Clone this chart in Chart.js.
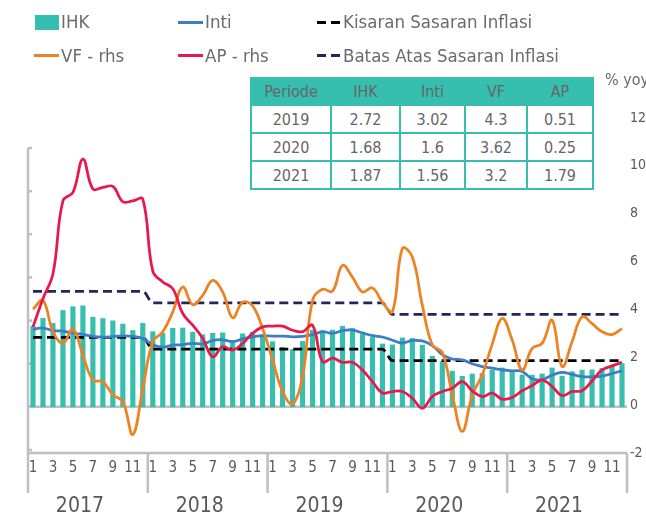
<!DOCTYPE html>
<html>
<head>
<meta charset="utf-8">
<script src="https://cdn.jsdelivr.net/npm/chart.js@4.4.1/dist/chart.umd.min.js"></script>
<style>
  body { margin: 0; background: #fff; }
  #wrap {
    position: relative; width: 646px; height: 515px;
    font-family: "Liberation Sans Narrow", "DejaVu Sans Condensed", sans-serif;
    color: #6b6b6b;
  }
  #grafik { position: absolute; left: 0; top: 0; }
  .teks { position: absolute; font-size: 18.5px; line-height: 20px; white-space: nowrap; }
  .tanda { position: absolute; }
  #tabel {
    position: absolute; left: 250px; top: 77px;
    border-collapse: collapse; font-size: 16px; background: #fff;
  }
  #tabel th, #tabel td {
    border: 2px solid #36BEAE; text-align: center; padding: 0;
    font-weight: normal; color: #666;
  }
  #tabel th { background: #36BEAE; height: 25px; }
  #tabel td { height: 26px; }
  #satuan { position: absolute; left: 605px; top: 70px; font-size: 16px; white-space: nowrap; }
</style>
</head>
<body>
<div id="wrap">
  <canvas id="grafik" width="646" height="515"></canvas>

  <!-- legenda -->
  <div class="tanda" style="left:35px;top:15px;width:24px;height:15px;background:#36BEAE"></div>
  <div class="teks" style="left:61px;top:12px">IHK</div>
  <div class="tanda" style="left:178px;top:21px;width:25px;height:3px;background:#3C7DC4"></div>
  <div class="teks" style="left:205px;top:12px">Inti</div>
  <div class="tanda" style="left:317px;top:21px;width:9px;height:3px;background:#000"></div>
  <div class="tanda" style="left:331px;top:21px;width:9px;height:3px;background:#000"></div>
  <div class="teks" style="left:343px;top:12px">Kisaran Sasaran Inflasi</div>

  <div class="tanda" style="left:34px;top:54px;width:25px;height:3px;background:#EE8222"></div>
  <div class="teks" style="left:61px;top:46px">VF - rhs</div>
  <div class="tanda" style="left:178px;top:54px;width:25px;height:3px;background:#E8184C"></div>
  <div class="teks" style="left:205px;top:46px">AP - rhs</div>
  <div class="tanda" style="left:317px;top:54px;width:9px;height:3px;background:#25255E"></div>
  <div class="tanda" style="left:331px;top:54px;width:9px;height:3px;background:#25255E"></div>
  <div class="teks" style="left:343px;top:46px">Batas Atas Sasaran Inflasi</div>

  <div id="satuan">% yoy</div>
  <table id="tabel">
    <colgroup>
      <col style="width:80px"><col style="width:69px"><col style="width:65px"><col style="width:62px"><col style="width:66px">
    </colgroup>
    <thead></thead>
    <tbody></tbody>
  </table>
</div>

<script>
const tahun = ["2017", "2018", "2019", "2020", "2021"];
const bulanTick = ["1", "", "3", "", "5", "", "7", "", "9", "", "11", ""];

const ihk = [
    3.49, 3.83, 3.61, 4.17, 4.33, 4.37, 3.88, 3.82, 3.72, 3.58, 3.30, 3.61,
    3.25, 3.18, 3.40, 3.41, 3.23, 3.12, 3.18, 3.20, 2.88, 3.16, 3.23, 3.13,
    2.82, 2.57, 2.48, 2.83, 3.32, 3.28, 3.32, 3.49, 3.39, 3.13, 3.00, 2.72,
    2.68, 2.98, 2.96, 2.67, 2.19, 1.96, 1.54, 1.32, 1.42, 1.44, 1.59, 1.68,
    1.55, 1.38, 1.37, 1.42, 1.68, 1.33, 1.52, 1.59, 1.60, 1.66, 1.75, 1.87
];
const inti = [
    3.35, 3.41, 3.30, 3.28, 3.19, 3.13, 3.05, 3.02, 3.04, 3.07, 3.05, 2.95,
    2.69, 2.58, 2.67, 2.69, 2.75, 2.72, 2.87, 2.90, 2.82, 2.94, 3.03, 3.07,
    3.06, 3.06, 3.03, 3.05, 3.12, 3.25, 3.18, 3.30, 3.32, 3.20, 3.08, 3.02,
    2.88, 2.76, 2.87, 2.85, 2.65, 2.26, 2.07, 2.03, 1.86, 1.74, 1.67, 1.60,
    1.56, 1.53, 1.21, 1.18, 1.37, 1.49, 1.40, 1.31, 1.30, 1.33, 1.44, 1.56
];
const vf = [
    4.01, 4.38, 3.07, 2.58, 3.18, 2.09, 1.05, 0.98, 0.43, 0.15, -1.23, 0.70,
    2.65, 3.07, 3.90, 4.94, 4.20, 4.59, 5.21, 4.73, 3.65, 4.30, 4.15, 3.20,
    1.89, 0.57, 0.05, 1.19, 4.38, 4.84, 4.76, 5.84, 5.35, 4.73, 4.90, 4.30,
    3.90, 6.55, 6.19, 4.17, 2.51, 2.20, 0.43, -1.10, 0.43, 1.26, 2.55, 3.62,
    2.72, 1.47, 2.37, 2.58, 3.55, 1.61, 2.65, 3.69, 3.41, 3.07, 2.95, 3.20
];
const ap = [
    3.27, 4.45, 5.49, 8.54, 8.89, 10.28, 9.03, 9.10, 9.14, 8.50, 8.54, 8.61,
    5.60, 5.15, 4.87, 3.83, 3.34, 2.79, 2.02, 2.44, 2.30, 2.58, 3.00, 3.27,
    3.30, 3.30, 3.13, 3.07, 3.34, 1.82, 1.96, 1.79, 1.79, 1.47, 0.98, 0.51,
    0.57, 0.57, 0.29, -0.13, 0.36, 0.57, 0.71, 0.98, 0.60, 0.36, 0.50, 0.25,
    0.32, 0.60, 0.82, 1.05, 0.78, 0.40, 0.57, 0.60, 1.01, 1.47, 1.64, 1.79
];
const kisaran = [
    3, 3, 3, 3, 3, 3, 3, 3, 3, 3, 3, 3,
    2.5, 2.5, 2.5, 2.5, 2.5, 2.5, 2.5, 2.5, 2.5, 2.5, 2.5, 2.5,
    2.5, 2.5, 2.5, 2.5, 2.5, 2.5, 2.5, 2.5, 2.5, 2.5, 2.5, 2.5,
    2, 2, 2, 2, 2, 2, 2, 2, 2, 2, 2, 2,
    2, 2, 2, 2, 2, 2, 2, 2, 2, 2, 2, 2
];
const batasAtas = [
    5, 5, 5, 5, 5, 5, 5, 5, 5, 5, 5, 5,
    4.5, 4.5, 4.5, 4.5, 4.5, 4.5, 4.5, 4.5, 4.5, 4.5, 4.5, 4.5,
    4.5, 4.5, 4.5, 4.5, 4.5, 4.5, 4.5, 4.5, 4.5, 4.5, 4.5, 4.5,
    4, 4, 4, 4, 4, 4, 4, 4, 4, 4, 4, 4,
    4, 4, 4, 4, 4, 4, 4, 4, 4, 4, 4, 4
];

// tick sumbu kiri (label tidak tampak di gambar)
const tickKiri = [-1.87, 0, 1.87, 3.73, 5.6, 7.47, 9.33, 11.2];

// tabel ringkasan
const kolomTabel = ["Periode", "IHK", "Inti", "VF", "AP"];
const periodeTabel = ["2019", "2020", "2021"];
const ihkTabel = ["2.72", "1.68", "1.87"];
const intiTabel = ["3.02", "1.6", "1.56"];
const vfTabel = ["4.3", "3.62", "3.2"];
const apTabel = ["0.51", "0.25", "1.79"];

const tabel = document.getElementById("tabel");
tabel.tHead.innerHTML = "<tr>" + kolomTabel.map(k => "<th>" + k + "</th>").join("") + "</tr>";
tabel.tBodies[0].innerHTML = periodeTabel.map((p, i) =>
    "<tr><td>" + p + "</td><td>" + ihkTabel[i] + "</td><td>" + intiTabel[i] +
    "</td><td>" + vfTabel[i] + "</td><td>" + apTabel[i] + "</td></tr>"
).join("");

const label = tahun.flatMap(() => bulanTick);
const huruf = '"Liberation Sans Narrow", "DejaVu Sans Condensed", sans-serif';
const abu = "#BFBFBF";

const sumbu = {
    id: "sumbu",
    beforeDatasetsDraw(chart) {
        const { ctx, chartArea: a, scales: { y } } = chart;
        const garis = (x1, y1, x2, y2) => {
            ctx.beginPath();
            ctx.moveTo(x1, y1);
            ctx.lineTo(x2, y2);
            ctx.stroke();
        };
        ctx.save();
        ctx.strokeStyle = abu;
        ctx.lineWidth = 2.5;

        const y0 = y.getPixelForValue(0);
        garis(a.left, y0, a.right, y0);
        garis(a.left, a.bottom, a.right, a.bottom);

        const yAtas = y.getPixelForValue(tickKiri[tickKiri.length - 1]);
        garis(a.left, yAtas, a.left, a.bottom);
        tickKiri.forEach(v => {
            const p = y.getPixelForValue(v);
            garis(a.left, p, a.left + 4, p);
        });

        const lebar = (a.right - a.left) / tahun.length;
        for (let k = 0; k <= tahun.length; k++) {
            const px = a.left + k * lebar;
            garis(px, a.bottom, px, a.bottom + 40);
        }

        ctx.fillStyle = "#595959";
        ctx.font = "21px " + huruf;
        ctx.textAlign = "center";
        ctx.textBaseline = "middle";
        tahun.forEach((t, k) => {
            ctx.fillText(t, a.left + (k + 0.5) * lebar - 8, a.bottom + 54);
        });
        ctx.restore();
    }
};

new Chart(document.getElementById("grafik"), {
    data: {
        labels: label,
        datasets: [
            {
                type: "line", label: "AP - rhs", data: ap, yAxisID: "y1",
                borderColor: "#E8184C", borderWidth: 2.75, tension: 0.4,
                pointRadius: 0, order: 0
            },
            {
                type: "line", label: "VF - rhs", data: vf, yAxisID: "y1",
                borderColor: "#EE8222", borderWidth: 2.75, tension: 0.4,
                pointRadius: 0, order: 1
            },
            {
                type: "line", label: "Inti", data: inti, yAxisID: "y",
                borderColor: "#3C7DC4", borderWidth: 2.75, tension: 0.4,
                pointRadius: 0, order: 2
            },
            {
                type: "line", label: "Batas Atas Sasaran Inflasi", data: batasAtas, yAxisID: "y",
                borderColor: "#25255E", borderWidth: 2.75, borderDash: [9, 5],
                cubicInterpolationMode: "monotone", pointRadius: 0, order: 3
            },
            {
                type: "line", label: "Kisaran Sasaran Inflasi", data: kisaran, yAxisID: "y",
                borderColor: "#000000", borderWidth: 2.75, borderDash: [9, 5],
                cubicInterpolationMode: "monotone", pointRadius: 0, order: 4
            },
            {
                type: "bar", label: "IHK", data: ihk, yAxisID: "y",
                backgroundColor: "#36BEAE", barThickness: 4.5, order: 5
            }
        ]
    },
    options: {
        responsive: false,
        animation: false,
        layout: {
            padding: { top: 118 }
        },
        plugins: {
            legend: { display: false },
            tooltip: { enabled: false }
        },
        scales: {
            x: {
                offset: true,
                grid: { display: false, drawTicks: false },
                border: { display: false },
                ticks: {
                    autoSkip: false,
                    maxRotation: 0,
                    padding: 6,
                    color: "#595959",
                    font: { family: huruf, size: 15 }
                },
                afterFit(axis) { axis.height = 62; }
            },
            y: {
                position: "left",
                min: -2,
                max: 12.5,
                grid: { display: false, drawTicks: false },
                border: { display: false },
                ticks: { display: false },
                afterFit(axis) { axis.width = 28; }
            },
            y1: {
                position: "right",
                min: -2,
                max: 12,
                grid: { display: false, drawTicks: false },
                border: { display: false },
                ticks: {
                    stepSize: 2,
                    padding: 3,
                    color: "#595959",
                    font: { family: huruf, size: 14 }
                },
                afterFit(axis) { axis.width = 19; }
            }
        }
    },
    plugins: [sumbu]
});
</script>
</body>
</html>
